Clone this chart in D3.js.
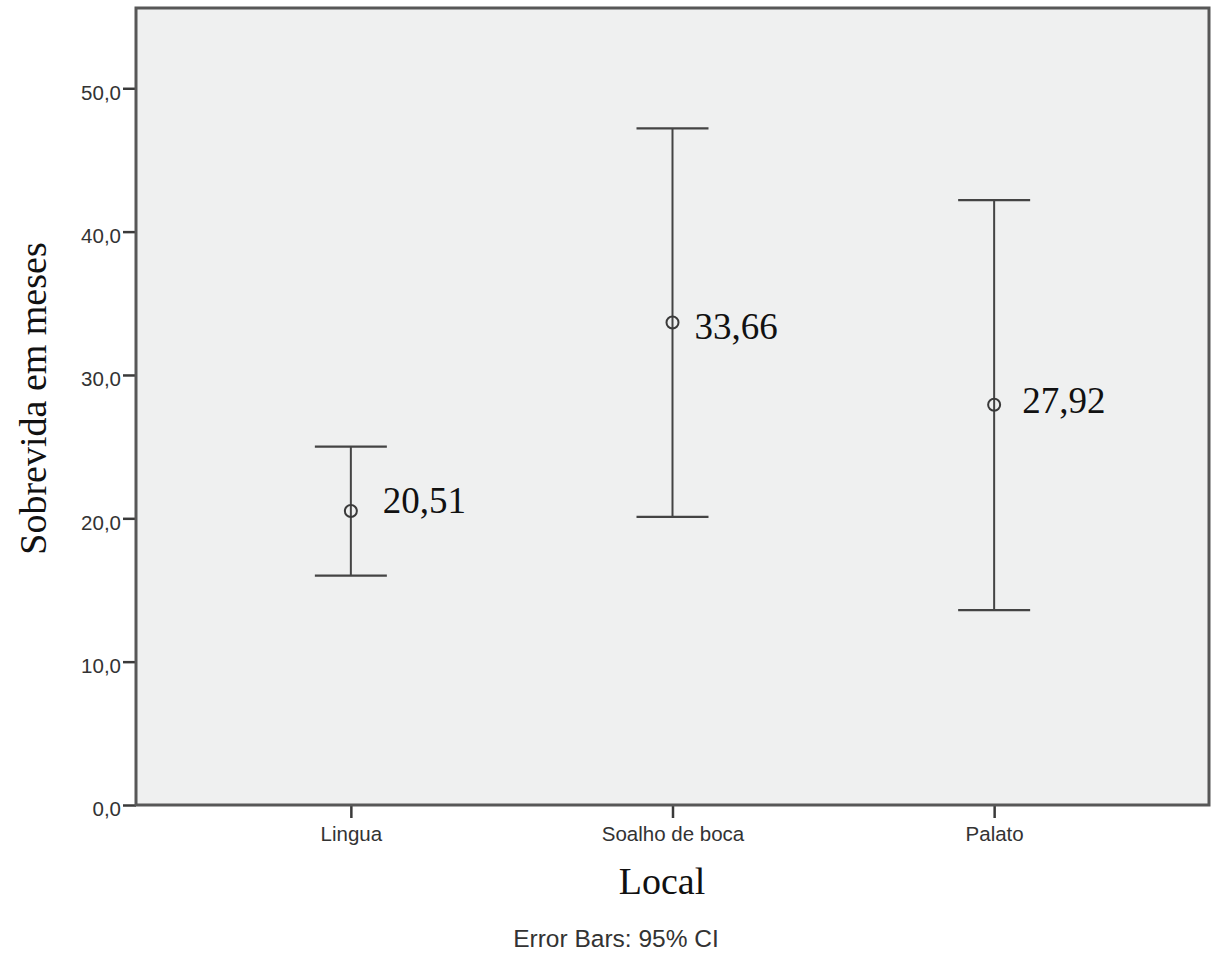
<!DOCTYPE html>
<html>
<head>
<meta charset="utf-8">
<script src="https://cdn.jsdelivr.net/npm/d3@7"></script>
<style>
  html, body { margin: 0; padding: 0; background: #ffffff; }
  svg { display: block; }
</style>
</head>
<body>
<script>
// ---- data ----
const categories = ["Lingua", "Soalho de boca", "Palato"];
const means = [20.51, 33.66, 27.92];
const ciLower = [16.0, 20.1, 13.6];
const ciUpper = [25.0, 47.2, 42.2];
const yTicks = [0, 10, 20, 30, 40, 50];
const yMax = 55.6;
const yTitle = "Sobrevida em meses";
const xTitle = "Local";
const footnote = "Error Bars: 95% CI";

// ---- layout (not data) ----
const W = 1220, H = 953;
const plot = { left: 136, right: 1209, top: 8, bottom: 805 };
const labelNudge = [[32, 2], [22, 17], [28, 8]]; // manual label offsets (dx, dy from point)

const svg = d3.select("body").append("svg").attr("width", W).attr("height", H);

const x = d3.scalePoint().domain(categories).range([plot.left, plot.right]).padding(0.668);
const y = d3.scaleLinear().domain([0, yMax]).range([plot.bottom, plot.top]);

const comma = f => v => d3.format(f)(v).replace(".", ",");

// plot background
svg.append("rect")
  .attr("x", plot.left).attr("y", plot.top)
  .attr("width", plot.right - plot.left).attr("height", plot.bottom - plot.top)
  .attr("fill", "#eff0f0");

// y axis
const yAxis = d3.axisLeft(y).tickValues(yTicks).tickFormat(comma(".1f")).tickSize(13).tickPadding(2);
const gy = svg.append("g").attr("transform", `translate(${plot.left},0)`).call(yAxis);
gy.select(".domain").remove();
gy.selectAll(".tick line").attr("stroke", "#3a3a3a").attr("stroke-width", 2.5);
gy.selectAll(".tick text")
  .attr("font-family", "'Liberation Sans', Arial, sans-serif")
  .attr("font-size", 20.5).attr("fill", "#333").attr("dy", "0.53em");

// x axis
const xAxis = d3.axisBottom(x).tickSize(13).tickPadding(8);
const gx = svg.append("g").attr("transform", `translate(0,${plot.bottom})`).call(xAxis);
gx.select(".domain").remove();
gx.selectAll(".tick line").attr("stroke", "#3a3a3a").attr("stroke-width", 2.5);
gx.selectAll(".tick text")
  .attr("font-family", "'Liberation Sans', Arial, sans-serif")
  .attr("font-size", 20.5).attr("fill", "#333");

// frame
svg.append("rect")
  .attr("x", plot.left).attr("y", plot.top)
  .attr("width", plot.right - plot.left).attr("height", plot.bottom - plot.top)
  .attr("fill", "none").attr("stroke", "#575757").attr("stroke-width", 3);

// error bars
const capHalf = 36;
const g = svg.append("g");
categories.forEach((c, i) => {
  const cx = x(c);
  g.append("line").attr("x1", cx).attr("x2", cx)
    .attr("y1", y(ciUpper[i])).attr("y2", y(ciLower[i]))
    .attr("stroke", "#444").attr("stroke-width", 2);
  [ciUpper[i], ciLower[i]].forEach(v => {
    g.append("line").attr("x1", cx - capHalf).attr("x2", cx + capHalf)
      .attr("y1", y(v)).attr("y2", y(v))
      .attr("stroke", "#444").attr("stroke-width", 2.2);
  });
  g.append("circle").attr("cx", cx).attr("cy", y(means[i])).attr("r", 6)
    .attr("fill", "none").attr("stroke", "#3a3a3a").attr("stroke-width", 2);
  g.append("text")
    .attr("x", cx + labelNudge[i][0]).attr("y", y(means[i]) + labelNudge[i][1])
    .attr("font-family", "'Liberation Serif', 'Times New Roman', serif")
    .attr("font-size", 37).attr("fill", "#111")
    .text(comma(".2f")(means[i]));
});

// axis titles
svg.append("text")
  .attr("transform", `translate(46,${(plot.top + plot.bottom) / 2 - 8}) rotate(-90)`)
  .attr("text-anchor", "middle")
  .attr("font-family", "'Liberation Serif', 'Times New Roman', serif")
  .attr("font-size", 38).attr("fill", "#111")
  .text(yTitle);

svg.append("text")
  .attr("x", 662).attr("y", 894)
  .attr("text-anchor", "middle")
  .attr("font-family", "'Liberation Serif', 'Times New Roman', serif")
  .attr("font-size", 38).attr("fill", "#111")
  .text(xTitle);

svg.append("text")
  .attr("x", 616).attr("y", 947)
  .attr("text-anchor", "middle")
  .attr("font-family", "'Liberation Sans', Arial, sans-serif")
  .attr("font-size", 24.5).attr("fill", "#333")
  .text(footnote);
</script>
</body>
</html>
